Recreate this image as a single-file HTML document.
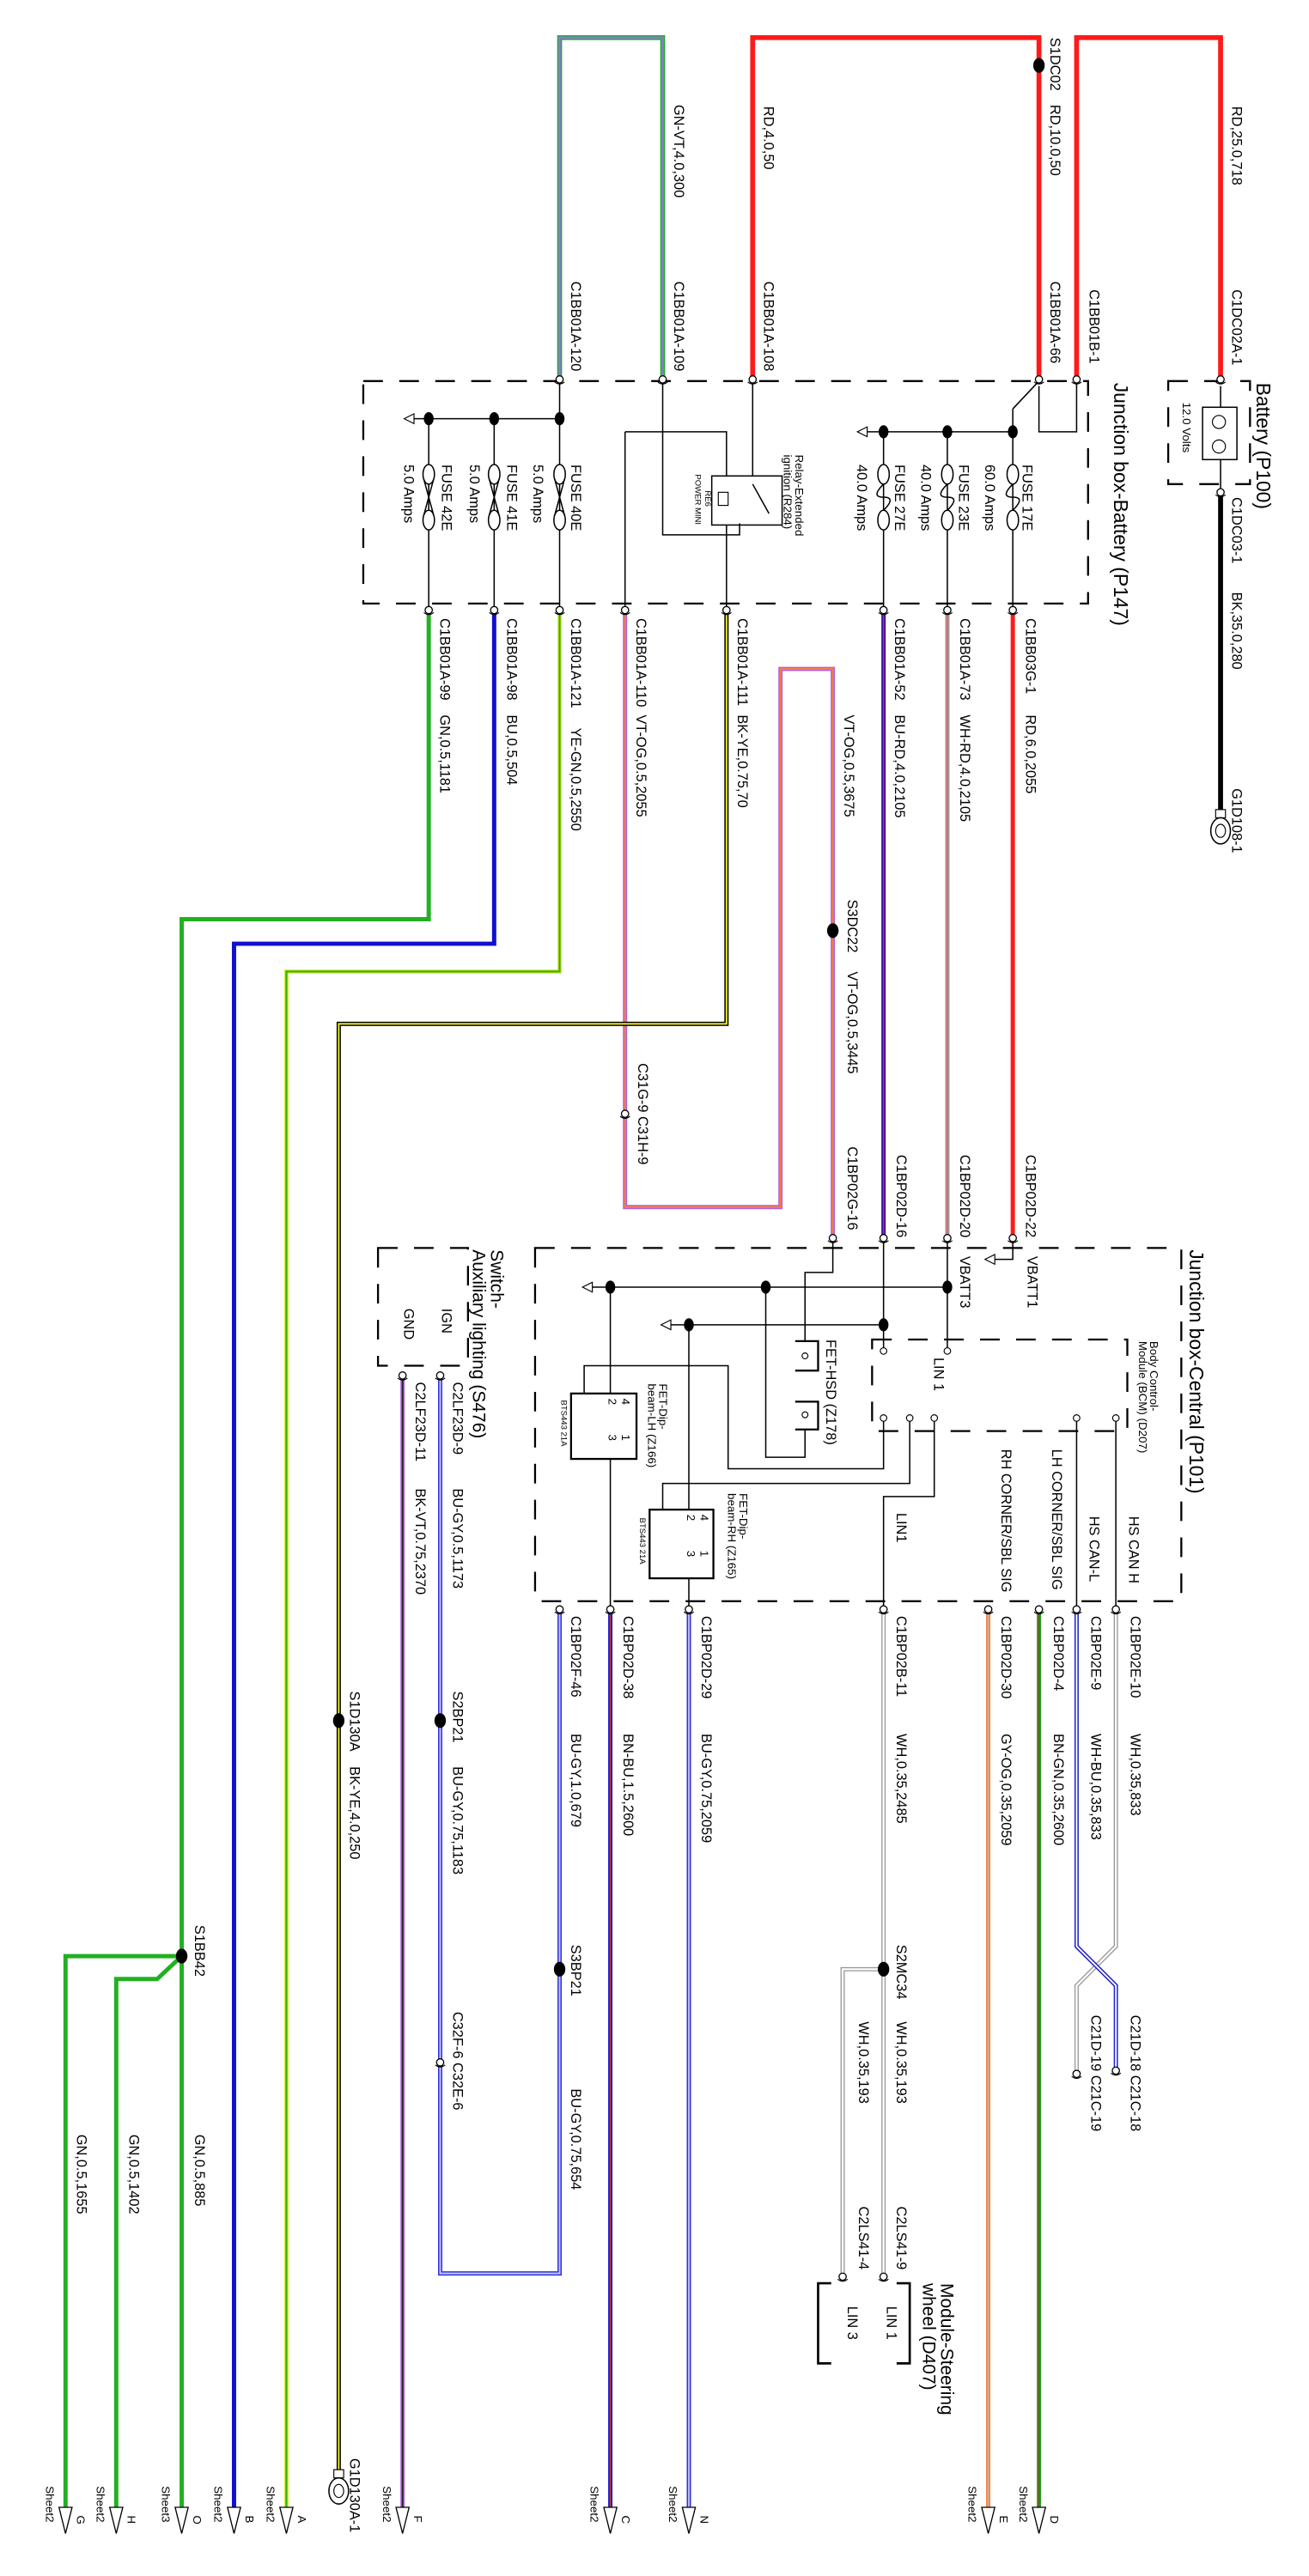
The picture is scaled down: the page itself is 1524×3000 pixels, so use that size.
<!DOCTYPE html>
<html><head><meta charset="utf-8"><style>
html,body{margin:0;padding:0;background:#fff}
svg{display:block}
text{font-family:"Liberation Sans",sans-serif;font-size:8.6px;fill:#000}
.t{font-size:12px}
.s{font-size:7px}
.xs{font-size:5px}
.d{fill:none;stroke:#000;stroke-width:1.2;stroke-dasharray:12 10}
.l{fill:none;stroke:#000;stroke-width:0.8}
</style></head><body>
<svg width="1524" height="3000" viewBox="0 0 800 1575" xmlns="http://www.w3.org/2000/svg">
<defs>
<g id="cn"><circle cx="0" cy="0" r="2.2" fill="#fff" stroke="#000" stroke-width="0.7"/><path d="M-3 1.5 Q0 4 3 1.5" fill="none" stroke="#000" stroke-width="0.6"/></g>
<g id="ar"><polygon points="-4,-16 4,-16 0,0" fill="#fff" stroke="#000" stroke-width="0.7"/></g>
</defs>
<g fill="none" stroke-linejoin="miter">
<!-- top wires -->
<path d="M746 232V23H658V232" stroke="#ff1a1a" stroke-width="3"/>
<path d="M460 232V23H635V232" stroke="#ff1a1a" stroke-width="3"/>
<path d="M342 232V23H405V232" stroke="#22b022" stroke-width="3"/>
<path d="M342 232V23H405V232" stroke="#8a7ad8" stroke-width="1.4"/>
<path d="M746 301V495" stroke="#000" stroke-width="3"/>
<!-- from JB battery -->
<path d="M262 373V562H111V1533M111 1196H40V1533M111 1196L96 1210H71V1533" stroke="#22b022" stroke-width="2.6"/>
<path d="M302 373V577H143V1533" stroke="#1010d0" stroke-width="2.6"/>
<path d="M342 373V594H175V1533" stroke="#e8e820" stroke-width="2.6"/>
<path d="M342 373V594H175V1533" stroke="#22b022" stroke-width="1.1"/>
<path d="M382 373V738H477V409H509V757" stroke="#b060e0" stroke-width="2.6"/>
<path d="M382 373V738H477V409H509V757" stroke="#ff8030" stroke-width="1"/>
<path d="M444 373V626H207V1510" stroke="#000" stroke-width="2.6"/>
<path d="M444 373V626H207V1510" stroke="#f0f020" stroke-width="1"/>
<path d="M540 373V757" stroke="#1010d0" stroke-width="2.6"/>
<path d="M540 373V757" stroke="#ff1a1a" stroke-width="0.9"/>
<path d="M579 373V757" stroke="#999" stroke-width="2.6"/>
<path d="M579 373V757" stroke="#ff6060" stroke-width="1"/>
<path d="M619 373V757" stroke="#ff1a1a" stroke-width="2.6"/>
<!-- below central -->
<path d="M269 841V1390H342V984" stroke="#3030e0" stroke-width="2.6"/>
<path d="M269 841V1390H342V984" stroke="#c8c8f0" stroke-width="1"/>
<path d="M246 841V1533" stroke="#b060e0" stroke-width="2.6"/>
<path d="M246 841V1533" stroke="#222" stroke-width="0.9"/>
<path d="M373 984V1533" stroke="#1010d0" stroke-width="2.6"/>
<path d="M373 984V1533" stroke="#c04020" stroke-width="0.9"/>
<path d="M421 984V1533" stroke="#3030e0" stroke-width="2.6"/>
<path d="M421 984V1533" stroke="#c0c0f0" stroke-width="1"/>
<path d="M540 984V1392M540 1204H515V1392" stroke="#999" stroke-width="2.6"/>
<path d="M540 984V1392M540 1204H515V1392" stroke="#fff" stroke-width="1.2"/>
<path d="M604 984V1533" stroke="#ff8030" stroke-width="2.6"/>
<path d="M604 984V1533" stroke="#bbb" stroke-width="0.8"/>
<path d="M635 984V1533" stroke="#22a022" stroke-width="2.6"/>
<path d="M635 984V1533" stroke="#805020" stroke-width="0.9"/>
<path d="M682 984V1190L658 1214V1266" stroke="#999" stroke-width="2.6"/>
<path d="M682 984V1190L658 1214V1266" stroke="#fff" stroke-width="1.2"/>
<path d="M658 984V1190L682 1214V1266" stroke="#2020d0" stroke-width="2.6"/>
<path d="M658 984V1190L682 1214V1266" stroke="#fff" stroke-width="1"/>
</g>
<!-- splice dots -->
<g fill="#000">
<ellipse cx="635" cy="40" rx="3.5" ry="4.5"/>
<ellipse cx="509" cy="569" rx="3.5" ry="4.5"/>
<ellipse cx="207" cy="1052" rx="3.5" ry="4.5"/>
<ellipse cx="269" cy="1052" rx="3.5" ry="4.5"/>
<ellipse cx="342" cy="1204" rx="3.5" ry="4.5"/>
<ellipse cx="540" cy="1204" rx="3.5" ry="4.5"/>
<ellipse cx="111" cy="1196" rx="3.5" ry="4.5"/>
<ellipse cx="262" cy="256" rx="3" ry="4"/><ellipse cx="302" cy="256" rx="3" ry="4"/><ellipse cx="342" cy="256" rx="3" ry="4"/>
<ellipse cx="540" cy="264" rx="3" ry="4"/><ellipse cx="579" cy="264" rx="3" ry="4"/><ellipse cx="619" cy="264" rx="3" ry="4"/>
<ellipse cx="373" cy="787" rx="3" ry="4"/><ellipse cx="468" cy="787" rx="3" ry="4"/><ellipse cx="579" cy="787" rx="3" ry="4"/>
<ellipse cx="421" cy="810" rx="3" ry="4"/><ellipse cx="540" cy="810" rx="3" ry="4"/>
</g>
<!-- JB battery internals -->
<rect class="d" x="222" y="233" width="443" height="136"/>
<path class="l" d="M250 256H342M342 233V373M302 256V373M262 256V373"/>
<path class="l" d="M527 264H619M619 250V373M579 264V373M540 264V373M635 233L619 250M658 233V264H635V236"/>
<polygon points="247,256 253,253 253,259" fill="#fff" stroke="#000" stroke-width="0.6"/>
<polygon points="524,264 530,261 530,267" fill="#fff" stroke="#000" stroke-width="0.6"/>
<g fill="#fff" stroke="#000" stroke-width="0.8">
<ellipse cx="262" cy="290" rx="3.5" ry="6"/><ellipse cx="262" cy="318" rx="3.5" ry="6"/>
<ellipse cx="302" cy="290" rx="3.5" ry="6"/><ellipse cx="302" cy="318" rx="3.5" ry="6"/>
<ellipse cx="342" cy="290" rx="3.5" ry="6"/><ellipse cx="342" cy="318" rx="3.5" ry="6"/>
<ellipse cx="540" cy="290" rx="3.5" ry="6"/><ellipse cx="540" cy="318" rx="3.5" ry="6"/>
<ellipse cx="579" cy="290" rx="3.5" ry="6"/><ellipse cx="579" cy="318" rx="3.5" ry="6"/>
<ellipse cx="619" cy="290" rx="3.5" ry="6"/><ellipse cx="619" cy="318" rx="3.5" ry="6"/>
</g>
<path class="l" d="M259 293L265 315M265 293L259 315M299 293L305 315M305 293L299 315M339 293L345 315M345 293L339 315"/>
<path class="l" d="M540 296Q532 304 540 304Q548 304 540 312M579 296Q571 304 579 304Q587 304 579 312M619 296Q611 304 619 304Q627 304 619 312"/>
<!-- relay -->
<rect x="435" y="291" width="43" height="30" fill="#fff" stroke="#000" stroke-width="0.8"/>
<path class="l" d="M460 233V291M405 233V327H452V320M382 264H444V291M382 264V373M444 321V373"/>
<path class="l" d="M460 296L470 314"/>
<rect x="439" y="301" width="6" height="8" fill="#fff" stroke="#000" stroke-width="0.6"/>
<!-- central JB -->
<rect class="d" x="327" y="763" width="395" height="216"/>
<rect class="d" x="533" y="819" width="156" height="56"/>
<path class="l" d="M619 757V770H605M579 757V826M360 787H579M409 810H540M540 757V826M509 757V778H492V820M492 874V891H468V787"/>
<polygon points="602,770 608,767 608,773" fill="#fff" stroke="#000" stroke-width="0.6"/>
<polygon points="356,787 362,784 362,790" fill="#fff" stroke="#000" stroke-width="0.6"/>
<polygon points="404,810 410,807 410,813" fill="#fff" stroke="#000" stroke-width="0.6"/>
<path d="M486 820H500V838H486M486 857H500V874H486" fill="none" stroke="#000" stroke-width="1.2"/>
<path class="l" d="M540 867V898H445V835H357V852M556 867V907H405V923M571 867V915H540V984M373 787V984M421 810V984M658 867V984M682 867V984"/>
<rect x="349" y="852" width="40" height="40" fill="#fff" stroke="#000" stroke-width="1.2"/>
<rect x="397" y="923" width="39" height="42" fill="#fff" stroke="#000" stroke-width="1.2"/>
<g fill="#fff" stroke="#000" stroke-width="0.6">
<circle cx="540" cy="826" r="2"/><circle cx="579" cy="826" r="2"/>
<circle cx="540" cy="867" r="2"/><circle cx="556" cy="867" r="2"/><circle cx="571" cy="867" r="2"/><circle cx="658" cy="867" r="2"/><circle cx="682" cy="867" r="2"/>
<circle cx="492" cy="829" r="1.8"/><circle cx="492" cy="865" r="1.8"/>
</g>
<!-- switch box -->
<rect class="d" x="231" y="763" width="55" height="72"/>
<!-- battery box -->
<rect class="d" x="714" y="233" width="50" height="63"/>
<rect x="735" y="249" width="21" height="32" fill="#fff" stroke="#000" stroke-width="0.8"/>
<circle cx="745" cy="258" r="4" fill="none" stroke="#000" stroke-width="0.6"/><circle cx="745" cy="273" r="4" fill="none" stroke="#000" stroke-width="0.6"/>
<path class="l" d="M746 236V249M746 281V301"/>
<!-- steering -->
<path d="M508 1396H500V1445H508M548 1396H556V1445H548" fill="none" stroke="#000" stroke-width="1.4"/>
<!-- grounds -->
<rect x="743" y="495" width="6" height="5" fill="#fff" stroke="#000" stroke-width="0.6"/>
<ellipse cx="746" cy="508" rx="6" ry="8" fill="#fff" stroke="#000" stroke-width="0.8"/><ellipse cx="746" cy="508" rx="3" ry="4" fill="none" stroke="#000" stroke-width="0.6"/>
<rect x="204" y="1510" width="6" height="5" fill="#fff" stroke="#000" stroke-width="0.6"/>
<ellipse cx="207" cy="1523" rx="6" ry="8" fill="#fff" stroke="#000" stroke-width="0.8"/><ellipse cx="207" cy="1523" rx="3" ry="4" fill="none" stroke="#000" stroke-width="0.6"/>
<!-- connectors -->
<g>
<use href="#cn" x="746" y="232"/><use href="#cn" x="658" y="232"/><use href="#cn" x="635" y="232"/><use href="#cn" x="460" y="232"/><use href="#cn" x="405" y="232"/><use href="#cn" x="342" y="232"/><use href="#cn" x="746" y="301"/>
<use href="#cn" x="262" y="373"/><use href="#cn" x="302" y="373"/><use href="#cn" x="342" y="373"/><use href="#cn" x="382" y="373"/><use href="#cn" x="444" y="373"/><use href="#cn" x="540" y="373"/><use href="#cn" x="579" y="373"/><use href="#cn" x="619" y="373"/>
<use href="#cn" x="382" y="681"/>
<use href="#cn" x="509" y="757"/><use href="#cn" x="540" y="757"/><use href="#cn" x="579" y="757"/><use href="#cn" x="619" y="757"/>
<use href="#cn" x="269" y="841"/><use href="#cn" x="246" y="841"/>
<use href="#cn" x="342" y="984"/><use href="#cn" x="373" y="984"/><use href="#cn" x="421" y="984"/><use href="#cn" x="540" y="984"/><use href="#cn" x="604" y="984"/><use href="#cn" x="635" y="984"/><use href="#cn" x="658" y="984"/><use href="#cn" x="682" y="984"/>
<use href="#cn" x="269" y="1261"/><use href="#cn" x="658" y="1268"/><use href="#cn" x="682" y="1266"/>
<use href="#cn" x="540" y="1392"/><use href="#cn" x="515" y="1392"/>
</g>
<!-- arrows -->
<g>
<use href="#ar" x="40" y="1549"/><use href="#ar" x="71" y="1549"/><use href="#ar" x="111" y="1549"/><use href="#ar" x="143" y="1549"/><use href="#ar" x="175" y="1549"/><use href="#ar" x="246" y="1549"/><use href="#ar" x="373" y="1549"/><use href="#ar" x="421" y="1549"/><use href="#ar" x="604" y="1549"/><use href="#ar" x="635" y="1549"/>
</g>
<!-- text -->
<g>
<text transform="translate(753,65) rotate(90)">RD,25.0,718</text>
<text transform="translate(753,177) rotate(90)">C1DC02A-1</text>
<text transform="translate(642,23) rotate(90)">S1DC02</text>
<text transform="translate(642,64) rotate(90)">RD,10.0,50</text>
<text transform="translate(666,177) rotate(90)">C1BB01B-1</text>
<text transform="translate(642,172) rotate(90)">C1BB01A-66</text>
<text transform="translate(467,65) rotate(90)">RD,4.0,50</text>
<text transform="translate(467,172) rotate(90)">C1BB01A-108</text>
<text transform="translate(412,64) rotate(90)">GN-VT,4.0,300</text>
<text transform="translate(412,172) rotate(90)">C1BB01A-109</text>
<text transform="translate(349,172) rotate(90)">C1BB01A-120</text>
<text transform="translate(753,304) rotate(90)">C1DC03-1</text>
<text transform="translate(753,362) rotate(90)">BK,35.0,280</text>
<text transform="translate(753,482) rotate(90)">G1D108-1</text>
<text class="t" transform="translate(768,234) rotate(90)">Battery (P100)</text>
<text class="s" transform="translate(723,246) rotate(90)">12.0 Volts</text>
<text class="t" transform="translate(681,234) rotate(90)">Junction box-Battery (P147)</text>
<text transform="translate(625,284) rotate(90)">FUSE 17E</text>
<text transform="translate(602,284) rotate(90)">60.0 Amps</text>
<text transform="translate(586,284) rotate(90)">FUSE 23E</text>
<text transform="translate(563,284) rotate(90)">40.0 Amps</text>
<text transform="translate(547,284) rotate(90)">FUSE 27E</text>
<text transform="translate(524,284) rotate(90)">40.0 Amps</text>
<text transform="translate(349,284) rotate(90)">FUSE 40E</text>
<text transform="translate(326,284) rotate(90)">5.0 Amps</text>
<text transform="translate(310,284) rotate(90)">FUSE 41E</text>
<text transform="translate(287,284) rotate(90)">5.0 Amps</text>
<text transform="translate(270,284) rotate(90)">FUSE 42E</text>
<text transform="translate(247,284) rotate(90)">5.0 Amps</text>
<text class="s" transform="translate(486,278) rotate(90)">Relay-Extended</text>
<text class="s" transform="translate(479,278) rotate(90)">ignition (R284)</text>
<text class="xs" transform="translate(431,300) rotate(90)">RE6</text>
<text class="xs" transform="translate(425,290) rotate(90)">POWER MINI</text>
<text transform="translate(269,378) rotate(90)">C1BB01A-99</text>
<text transform="translate(269,437) rotate(90)">GN,0.5,1181</text>
<text transform="translate(310,378) rotate(90)">C1BB01A-98</text>
<text transform="translate(310,437) rotate(90)">BU,0.5,504</text>
<text transform="translate(349,378) rotate(90)">C1BB01A-121</text>
<text transform="translate(349,445) rotate(90)">YE-GN,0.5,2550</text>
<text transform="translate(389,378) rotate(90)">C1BB01A-110</text>
<text transform="translate(389,437) rotate(90)">VT-OG,0.5,2055</text>
<text transform="translate(451,378) rotate(90)">C1BB01A-111</text>
<text transform="translate(451,437) rotate(90)">BK-YE,0.75,70</text>
<text transform="translate(516,437) rotate(90)">VT-OG,0.5,3675</text>
<text transform="translate(547,378) rotate(90)">C1BB01A-52</text>
<text transform="translate(547,437) rotate(90)">BU-RD,4.0,2105</text>
<text transform="translate(587,378) rotate(90)">C1BB01A-73</text>
<text transform="translate(587,437) rotate(90)">WH-RD,4.0,2105</text>
<text transform="translate(627,378) rotate(90)">C1BB03G-1</text>
<text transform="translate(627,437) rotate(90)">RD,6.0,2055</text>
<text transform="translate(518,550) rotate(90)">S3DC22</text>
<text transform="translate(518,594) rotate(90)">VT-OG,0.5,3445</text>
<text transform="translate(390,650) rotate(90)">C31G-9 C31H-9</text>
<text transform="translate(518,701) rotate(90)">C1BP02G-16</text>
<text transform="translate(548,706) rotate(90)">C1BP02D-16</text>
<text transform="translate(587,706) rotate(90)">C1BP02D-20</text>
<text transform="translate(627,706) rotate(90)">C1BP02D-22</text>
<text class="t" transform="translate(727,764) rotate(90)">Junction box-Central (P101)</text>
<text transform="translate(628,768) rotate(90)">VBATT1</text>
<text transform="translate(587,768) rotate(90)">VBATT3</text>
<text transform="translate(571,830) rotate(90)">LIN 1</text>
<text class="s" transform="translate(703,820) rotate(90)">Body Control-</text>
<text class="s" transform="translate(696,820) rotate(90)">Module (BCM) (D207)</text>
<text transform="translate(505,819) rotate(90)">FET-HSD (Z178)</text>
<text class="s" transform="translate(403,846) rotate(90)">FET-Dip-</text>
<text class="s" transform="translate(396,846) rotate(90)">beam-LH (Z166)</text>
<text class="xs" transform="translate(343,856) rotate(90)">BTS443 21A</text>
<text class="s" transform="translate(452,913) rotate(90)">FET-Dip-</text>
<text class="s" transform="translate(445,913) rotate(90)">beam-RH (Z165)</text>
<text class="xs" transform="translate(391,928) rotate(90)">BTS443 21A</text>
<text class="s" transform="translate(380,855) rotate(90)">4</text><text class="s" transform="translate(380,877) rotate(90)">1</text>
<text class="s" transform="translate(372,855) rotate(90)">2</text><text class="s" transform="translate(372,877) rotate(90)">3</text>
<text class="s" transform="translate(428,926) rotate(90)">4</text><text class="s" transform="translate(428,948) rotate(90)">1</text>
<text class="s" transform="translate(420,926) rotate(90)">2</text><text class="s" transform="translate(420,948) rotate(90)">3</text>
<text transform="translate(548,925) rotate(90)">LIN1</text>
<text transform="translate(612,886) rotate(90)">RH CORNER/SBL SIG</text>
<text transform="translate(643,886) rotate(90)">LH CORNER/SBL SIG</text>
<text transform="translate(666,927) rotate(90)">HS CAN-L</text>
<text transform="translate(690,927) rotate(90)">HS CAN H</text>
<text style="font-size:11px" transform="translate(300,764) rotate(90)">Switch-</text>
<text style="font-size:11px" transform="translate(289,764) rotate(90)">Auxiliary lighting (S476)</text>
<text transform="translate(270,800) rotate(90)">IGN</text>
<text transform="translate(247,800) rotate(90)">GND</text>
<text transform="translate(277,845) rotate(90)">C2LF23D-9</text>
<text transform="translate(254,845) rotate(90)">C2LF23D-11</text>
<text transform="translate(277,910) rotate(90)">BU-GY,0.5,1173</text>
<text transform="translate(254,910) rotate(90)">BK-VT,0.75,2370</text>
<text transform="translate(349,988) rotate(90)">C1BP02F-46</text>
<text transform="translate(381,988) rotate(90)">C1BP02D-38</text>
<text transform="translate(429,988) rotate(90)">C1BP02D-29</text>
<text transform="translate(548,988) rotate(90)">C1BP02B-11</text>
<text transform="translate(612,988) rotate(90)">C1BP02D-30</text>
<text transform="translate(644,988) rotate(90)">C1BP02D-4</text>
<text transform="translate(667,988) rotate(90)">C1BP02E-9</text>
<text transform="translate(691,988) rotate(90)">C1BP02E-10</text>
<text transform="translate(349,1060) rotate(90)">BU-GY,1.0,679</text>
<text transform="translate(381,1060) rotate(90)">BN-BU,1.5,2600</text>
<text transform="translate(429,1060) rotate(90)">BU-GY,0.75,2059</text>
<text transform="translate(548,1060) rotate(90)">WH,0.35,2485</text>
<text transform="translate(612,1060) rotate(90)">GY-OG,0.35,2059</text>
<text transform="translate(644,1060) rotate(90)">BN-GN,0.35,2600</text>
<text transform="translate(667,1060) rotate(90)">WH-BU,0.35,833</text>
<text transform="translate(691,1060) rotate(90)">WH,0.35,833</text>
<text transform="translate(214,1034) rotate(90)">S1D130A</text>
<text transform="translate(214,1080) rotate(90)">BK-YE,4.0,250</text>
<text transform="translate(277,1034) rotate(90)">S2BP21</text>
<text transform="translate(277,1080) rotate(90)">BU-GY,0.75,1183</text>
<text transform="translate(277,1230) rotate(90)">C32F-6 C32E-6</text>
<text transform="translate(349,1189) rotate(90)">S3BP21</text>
<text transform="translate(349,1277) rotate(90)">BU-GY,0.75,654</text>
<text transform="translate(119,1177) rotate(90)">S1BB42</text>
<text transform="translate(119,1305) rotate(90)">GN,0.5,885</text>
<text transform="translate(79,1305) rotate(90)">GN,0.5,1402</text>
<text transform="translate(47,1305) rotate(90)">GN,0.5,1655</text>
<text transform="translate(548,1189) rotate(90)">S2MC34</text>
<text transform="translate(548,1236) rotate(90)">WH,0.35,193</text>
<text transform="translate(525,1236) rotate(90)">WH,0.35,193</text>
<text transform="translate(548,1349) rotate(90)">C2LS41-9</text>
<text transform="translate(525,1349) rotate(90)">C2LS41-4</text>
<text transform="translate(691,1232) rotate(90)">C21D-18 C21C-18</text>
<text transform="translate(667,1232) rotate(90)">C21D-19 C21C-19</text>
<text style="font-size:11px" transform="translate(575,1396) rotate(90)">Module-Steering</text>
<text style="font-size:11px" transform="translate(564,1396) rotate(90)">wheel (D407)</text>
<text transform="translate(542,1410) rotate(90)">LIN 1</text>
<text transform="translate(518,1410) rotate(90)">LIN 3</text>
<text transform="translate(214,1503) rotate(90)">G1D130A-1</text>
<g class="s">
<text class="s" transform="translate(28,1520) rotate(90)">Sheet2</text><text class="s" transform="translate(47,1538) rotate(90)">G</text>
<text class="s" transform="translate(59,1520) rotate(90)">Sheet2</text><text class="s" transform="translate(78,1538) rotate(90)">H</text>
<text class="s" transform="translate(99,1520) rotate(90)">Sheet3</text><text class="s" transform="translate(118,1538) rotate(90)">O</text>
<text class="s" transform="translate(131,1520) rotate(90)">Sheet2</text><text class="s" transform="translate(150,1538) rotate(90)">B</text>
<text class="s" transform="translate(163,1520) rotate(90)">Sheet2</text><text class="s" transform="translate(182,1538) rotate(90)">A</text>
<text class="s" transform="translate(234,1520) rotate(90)">Sheet2</text><text class="s" transform="translate(253,1538) rotate(90)">F</text>
<text class="s" transform="translate(361,1520) rotate(90)">Sheet2</text><text class="s" transform="translate(380,1538) rotate(90)">C</text>
<text class="s" transform="translate(409,1520) rotate(90)">Sheet2</text><text class="s" transform="translate(428,1538) rotate(90)">N</text>
<text class="s" transform="translate(592,1520) rotate(90)">Sheet2</text><text class="s" transform="translate(611,1538) rotate(90)">E</text>
<text class="s" transform="translate(623,1520) rotate(90)">Sheet2</text><text class="s" transform="translate(642,1538) rotate(90)">D</text>
</g>
</g>
</svg>
</body></html>
